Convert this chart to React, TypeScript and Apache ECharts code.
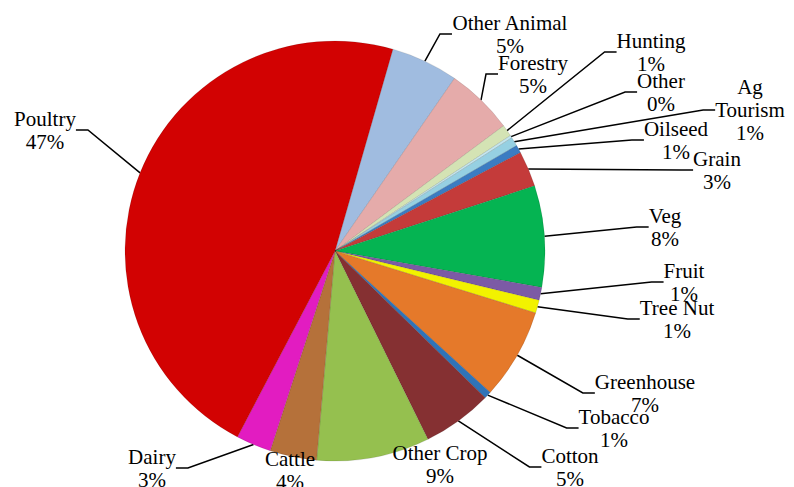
import React, { useEffect, useRef } from "react";
import * as echarts from "echarts";

const categories = [
  "Other Animal", "Forestry", "Hunting", "Other", "Ag Tourism", "Oilseed", "Grain",
  "Veg", "Fruit", "Tree Nut", "Greenhouse", "Tobacco", "Cotton", "Other Crop",
  "Cattle", "Dairy", "Poultry",
];
const shares = [5.2, 5.2, 0.9, 0.2, 0.7, 0.6, 2.75, 7.8, 1.0, 1.0, 7.0, 0.55, 5.4, 8.7, 3.6, 2.7, 46.8];
const colors = [
  "#a0bce0", "#e5abaa", "#d4e3b4", "#c4e6ee", "#96d0e2", "#3b7cc2", "#c43b3a",
  "#05b452", "#7c5aa5", "#f2f200", "#e5792a", "#2f73b8", "#853032", "#95c04f",
  "#b5713a", "#e21cc1", "#d20202",
];
// label centre positions (layout only)
const labelPos: [number, number][] = [
  [510, 34], [533, 74], [651, 52], [661, 92], [750, 110], [676, 140], [717, 170],
  [665, 227], [684, 282], [677, 319], [645, 393], [614, 428], [570, 467], [440, 464],
  [290, 470], [152, 468], [45, 130],
];
const noLine = ["Other Crop", "Cattle"];
const FONT = "Liberation Serif";

export default function App() {
  const ref = useRef<HTMLDivElement>(null);
  useEffect(() => {
    document.body.style.margin = "0";
    const chart = echarts.init(ref.current!, null, { renderer: "svg" });
    chart.setOption({
      animation: false,
      backgroundColor: "#ffffff",
      textStyle: { fontFamily: FONT },
      series: [
        {
          type: "pie",
          center: [335, 251],
          radius: 210,
          startAngle: 74,
          clockwise: true,
          avoidLabelOverlap: false,
          percentPrecision: 2,
          data: categories.map((name, i) => ({
            name,
            value: shares[i],
            itemStyle: { color: colors[i] },
            labelLine: noLine.includes(name) ? { show: false } : undefined,
          })),
          itemStyle: { borderColor: "rgba(0,0,0,0.18)", borderWidth: 0.6 },
          label: {
            show: true,
            position: "outside",
            formatter: (p: any) =>
              `${p.name === "Ag Tourism" ? "Ag\nTourism" : p.name}\n${Math.round(p.percent)}%`,
            fontFamily: FONT,
            fontSize: 21,
            lineHeight: 23,
            color: "#000",
          },
          labelLine: {
            show: true,
            length: 10,
            length2: 12,
            lineStyle: { color: "#000", width: 1.5 },
          },
          labelLayout: (params: any) => {
            const [x, y] = labelPos[params.dataIndex];
            return { x, y, align: "center", verticalAlign: "middle" };
          },
          emphasis: { disabled: true },
        },
      ],
    });
    return () => chart.dispose();
  }, []);
  return <div ref={ref} style={{ width: 794, height: 487 }} />;
}
